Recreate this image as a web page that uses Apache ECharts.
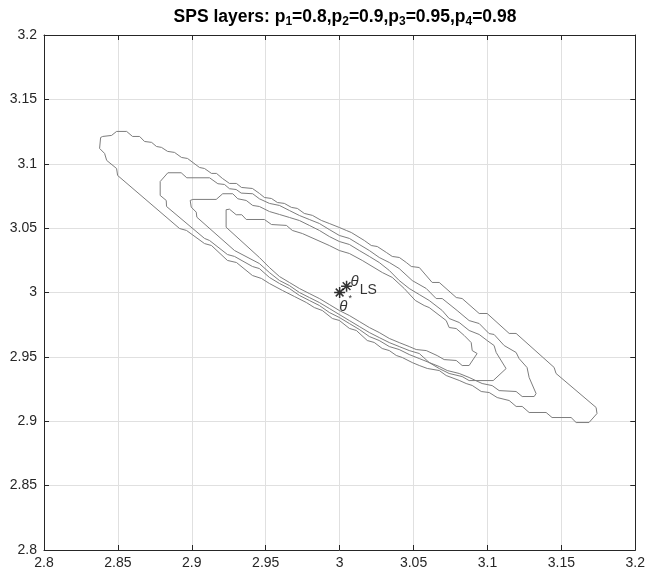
<!DOCTYPE html>
<html>
<head>
<meta charset="utf-8">
<script src="https://cdn.jsdelivr.net/npm/echarts@6/dist/echarts.min.js"></script>
<style>
  html, body { margin: 0; padding: 0; background: #fff; }
  #chart { width: 648px; height: 577px; }
</style>
</head>
<body>
<div id="chart"></div>
<script>
// SPS confidence layers (theta1 on x, theta2 on y)
const layer1 = [ // p1 = 0.8 (innermost)
  [2.9232,3.0643],[2.9255,3.0647],[2.9300,3.0604],[2.9338,3.0604],[2.9368,3.0567],[2.9491,3.0567],
  [2.9539,3.0528],[2.9640,3.0521],[2.9680,3.0482],[2.9748,3.0458],[2.9930,3.0365],[2.9998,3.0326],
  [3.0066,3.0303],[3.0153,3.0249],[3.0289,3.0155],[3.0356,3.0117],[3.0437,3.0031],[3.0512,2.9938],
  [3.0572,2.9899],[3.0606,2.9883],[3.0721,2.9782],[3.0741,2.9728],[3.0789,2.9720],[3.0843,2.9666],
  [3.0890,2.9611],[3.0897,2.9549],[3.0930,2.9526],[3.0876,2.9433],[3.0829,2.9433],[3.0789,2.9472],
  [3.0707,2.9479],[3.0660,2.9510],[3.0586,2.9549],[3.0518,2.9557],[3.0471,2.9580],[3.0403,2.9611],
  [3.0336,2.9643],[3.0268,2.9689],[3.0201,2.9728],[3.0133,2.9775],[3.0066,2.9821],[2.9998,2.9860],
  [2.9930,2.9907],[2.9863,2.9953],[2.9795,2.9992],[2.9728,3.0031],[2.9660,3.0078],[2.9593,3.0124],
  [2.9525,3.0194],[2.9457,3.0272],[2.9232,3.0507],[2.9232,3.0643]
];
const layer2 = [ // p2 = 0.9
  [2.8989,3.0715],[2.9007,3.0723],[2.9165,3.0723],[2.9209,3.0767],[2.9277,3.0767],[2.9311,3.0728],
  [2.9368,3.0715],[2.9412,3.0676],[2.9457,3.0668],[2.9525,3.0629],[2.9593,3.0606],[2.9660,3.0583],
  [2.9728,3.0559],[2.9795,3.0521],[2.9863,3.0482],[2.9930,3.0435],[2.9998,3.0396],[3.0066,3.0373],
  [3.0133,3.0326],[3.0201,3.0280],[3.0268,3.0233],[3.0336,3.0171],[3.0403,3.0093],[3.0471,3.0031],
  [3.0539,2.9984],[3.0606,2.9938],[3.0694,2.9860],[3.0741,2.9798],[3.0809,2.9767],[3.0876,2.9705],
  [3.0944,2.9674],[3.0998,2.9627],[3.1045,2.9588],[3.1059,2.9534],[3.1126,2.9409],[3.1039,2.9316],
  [3.0876,2.9316],[3.0829,2.9347],[3.0741,2.9371],[3.0674,2.9409],[3.0606,2.9456],[3.0539,2.9526],
  [3.0471,2.9549],[3.0403,2.9580],[3.0336,2.9611],[3.0268,2.9650],[3.0201,2.9689],[3.0133,2.9736],
  [3.0066,2.9782],[2.9998,2.9829],[2.9930,2.9876],[2.9863,2.9922],[2.9795,2.9961],[2.9728,3.0000],
  [2.9660,3.0054],[2.9593,3.0093],[2.9525,3.0155],[2.9457,3.0225],[2.9289,3.0326],[2.9034,3.0585],
  [2.9030,3.0624],[2.8996,3.0663],[2.8989,3.0715]
];
const layer3 = [ // p3 = 0.95
  [2.8786,3.0754],[2.8786,3.0862],[2.8838,3.0930],[2.8928,3.0930],[2.8966,3.0891],[2.9120,3.0891],
  [2.9176,3.0845],[2.9221,3.0839],[2.9255,3.0806],[2.9300,3.0800],[2.9334,3.0772],[2.9412,3.0767],
  [2.9457,3.0728],[2.9525,3.0692],[2.9593,3.0676],[2.9660,3.0637],[2.9728,3.0598],[2.9795,3.0567],
  [2.9863,3.0536],[2.9930,3.0489],[2.9998,3.0443],[3.0066,3.0420],[3.0133,3.0373],[3.0201,3.0326],
  [3.0268,3.0272],[3.0336,3.0233],[3.0403,3.0186],[3.0491,3.0093],[3.0586,3.0031],[3.0653,2.9953],
  [3.0694,2.9953],[3.0795,2.9860],[3.0876,2.9782],[3.0944,2.9759],[3.1011,2.9681],[3.1045,2.9674],
  [3.1113,2.9588],[3.1194,2.9534],[3.1214,2.9487],[3.1268,2.9417],[3.1282,2.9340],[3.1329,2.9215],
  [3.1316,2.9192],[3.1235,2.9192],[3.1194,2.9231],[3.1079,2.9238],[3.1032,2.9277],[3.0964,2.9293],
  [3.0876,2.9340],[3.0809,2.9371],[3.0728,2.9394],[3.0674,2.9425],[3.0606,2.9456],[3.0539,2.9487],
  [3.0471,2.9518],[3.0403,2.9557],[3.0336,2.9580],[3.0268,2.9627],[3.0201,2.9658],[3.0133,2.9713],
  [3.0066,2.9759],[2.9998,2.9806],[2.9930,2.9845],[2.9863,2.9899],[2.9795,2.9938],[2.9728,2.9977],
  [2.9660,3.0031],[2.9593,3.0070],[2.9525,3.0117],[2.9457,3.0186],[2.9410,3.0202],[2.9289,3.0280],
  [2.9241,3.0295],[2.9120,3.0404],[2.9086,3.0420],[2.8829,3.0668],[2.8827,3.0715],[2.8786,3.0754]
];
const layer4 = [ // p4 = 0.98 (outermost)
  [2.8376,3.1119],[2.8383,3.1204],[2.8397,3.1212],[2.8457,3.1220],[2.8491,3.1251],[2.8559,3.1251],
  [2.8599,3.1212],[2.8647,3.1212],[2.8680,3.1173],[2.8728,3.1166],[2.8761,3.1134],[2.8795,3.1127],
  [2.8836,3.1096],[2.8883,3.1088],[2.8930,3.1049],[2.8971,3.1041],[2.9052,3.0971],[2.9086,3.0963],
  [2.9133,3.0925],[2.9167,3.0925],[2.9207,3.0886],[2.9255,3.0847],[2.9302,3.0847],[2.9336,3.0816],
  [2.9410,3.0808],[2.9458,3.0769],[2.9491,3.0738],[2.9539,3.0730],[2.9579,3.0699],[2.9626,3.0692],
  [2.9674,3.0661],[2.9714,3.0653],[2.9761,3.0614],[2.9816,3.0599],[2.9876,3.0560],[2.9930,3.0536],
  [2.9998,3.0505],[3.0045,3.0482],[3.0079,3.0466],[3.0167,3.0404],[3.0214,3.0365],[3.0255,3.0357],
  [3.0316,3.0311],[3.0356,3.0280],[3.0404,3.0272],[3.0451,3.0233],[3.0485,3.0202],[3.0539,3.0194],
  [3.0626,3.0078],[3.0674,3.0078],[3.0789,2.9961],[3.0829,2.9953],[3.0944,2.9837],[3.0998,2.9837],
  [3.1147,2.9682],[3.1194,2.9682],[3.1451,2.9418],[3.1464,2.9371],[3.1735,2.9107],[3.1741,2.9060],
  [3.1687,2.8990],[3.1600,2.8990],[3.1566,2.9029],[3.1437,2.9029],[3.1397,2.9068],[3.1282,2.9068],
  [3.1235,2.9115],[3.1194,2.9115],[3.1147,2.9161],[3.1066,2.9184],[3.1012,2.9223],[3.0958,2.9231],
  [3.0897,2.9278],[3.0856,2.9293],[3.0809,2.9317],[3.0721,2.9355],[3.0674,2.9394],[3.0593,2.9410],
  [3.0539,2.9433],[3.0491,2.9456],[3.0424,2.9495],[3.0383,2.9511],[3.0336,2.9549],[3.0288,2.9565],
  [3.0234,2.9612],[3.0187,2.9627],[3.0113,2.9705],[3.0066,2.9721],[2.9998,2.9783],[2.9951,2.9798],
  [2.9883,2.9860],[2.9829,2.9883],[2.9775,2.9922],[2.9694,2.9969],[2.9613,3.0016],[2.9525,3.0070],
  [2.9471,3.0109],[2.9410,3.0132],[2.9302,3.0233],[2.9241,3.0249],[2.9133,3.0365],[2.9086,3.0380],
  [2.8964,3.0482],[2.8917,3.0497],[2.8498,3.0909],[2.8491,3.0963],[2.8424,3.1026],[2.8410,3.1080],
  [2.8376,3.1119]
];
const thetaStar = [3.0, 3.0];
const thetaLS = [3.0047, 3.0049];

const layers = [layer1, layer2, layer3, layer4];

const chart = echarts.init(document.getElementById("chart"), null, { renderer: "canvas" });

const axisFont = "'Liberation Sans', Arial, Helvetica, sans-serif";
const axisColor = "#262626";
const asterisk = "path://M5,0L5,10M0,5L10,5M1.5,1.5L8.5,8.5M1.5,8.5L8.5,1.5";

function valueAxis(pos, showLabels, margin) {
  return {
    type: "value",
    position: pos,
    min: 2.8,
    max: 3.2,
    interval: 0.05,
    axisLine: { show: true, onZero: false, lineStyle: { color: axisColor, width: 1 } },
    axisTick: { show: true, inside: true, length: 5, lineStyle: { color: axisColor } },
    axisLabel: {
      show: showLabels,
      color: axisColor,
      fontFamily: axisFont,
      fontSize: 14,
      margin: margin,
    },
    splitLine: { show: showLabels, lineStyle: { color: "#e0e0e0", width: 1 } },
  };
}

const options = {
  animation: false,
  backgroundColor: "#fff",
  title: {
    text: "SPS layers: p{s|1}=0.8,p{s|2}=0.9,p{s|3}=0.95,p{s|4}=0.98",
    left: 340,
    textAlign: "center",
    top: 1,
    textStyle: {
      fontFamily: axisFont,
      fontWeight: "bold",
      fontSize: 17.5,
      color: "#000",
      rich: {
        s: {
          fontFamily: axisFont,
          fontWeight: "bold",
          fontSize: 12,
          color: "#000",
          padding: [10, 0, 0, 0],
        },
      },
    },
  },
  grid: { left: 44, right: 12, top: 35, bottom: 27 },
  xAxis: [valueAxis("bottom", true, 6), valueAxis("top", false, 6)],
  yAxis: [valueAxis("left", true, 7), valueAxis("right", false, 7)],
  series: [
    ...layers.map((pts, i) => ({
      name: "p" + (i + 1),
      type: "line",
      data: pts,
      showSymbol: false,
      symbol: "none",
      lineStyle: { color: "#7d7d7d", width: 1 },
      z: 2,
    })),
    {
      name: "theta*",
      type: "scatter",
      data: [thetaStar],
      symbol: asterisk,
      symbolSize: 11,
      itemStyle: { color: "none", borderColor: "#000", borderWidth: 1.5 },
      label: {
        show: true,
        position: "bottom",
        distance: 0,
        offset: [6, -6],
        formatter: "{a|θ}{b|*}",
        rich: {
          a: { fontFamily: axisFont, fontStyle: "italic", fontSize: 15, color: "#000" },
          b: { fontFamily: axisFont, fontSize: 9, color: "#000", padding: [0, 0, 16, 1] },
        },
      },
      z: 5,
    },
    {
      name: "thetaLS",
      type: "scatter",
      data: [thetaLS],
      symbol: asterisk,
      symbolSize: 11,
      itemStyle: { color: "none", borderColor: "#000", borderWidth: 1.5 },
      label: {
        show: true,
        position: "right",
        distance: 0,
        offset: [-4, 0],
        formatter: "{a|θ}{b|LS}",
        rich: {
          a: { fontFamily: axisFont, fontStyle: "italic", fontSize: 15, color: "#000", padding: [0, 0, 8, 0] },
          b: { fontFamily: axisFont, fontSize: 14, color: "#000", padding: [8, 0, 0, 1] },
        },
      },
      z: 5,
    },
  ],
};

chart.setOption(options, true);
</script>
</body>
</html>
